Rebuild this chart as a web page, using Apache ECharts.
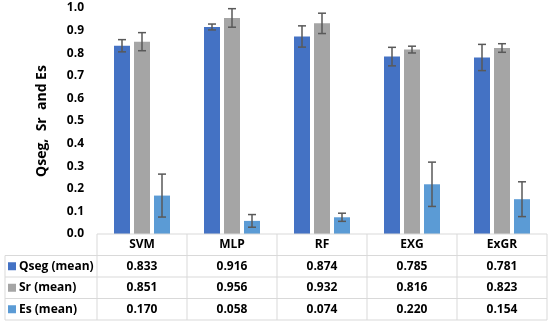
<!DOCTYPE html>
<html>
<head>
<meta charset="utf-8">
<script src="https://cdn.jsdelivr.net/npm/echarts@6/dist/echarts.min.js"></script>
<style>
html,body{margin:0;padding:0;background:#fff;}
#c{width:550px;height:325px;}
</style>
</head>
<body>
<div id="c"></div>
<script>
const categories = ['SVM', 'MLP', 'RF', 'EXG', 'ExGR'];
const seriesNames = ['Qseg (mean)', 'Sr (mean)', 'Es (mean)'];
const qseg = [0.833, 0.916, 0.874, 0.785, 0.781];
const sr = [0.851, 0.956, 0.932, 0.816, 0.823];
const es = [0.170, 0.058, 0.074, 0.220, 0.154];
const qsegErr = [0.027, 0.013, 0.047, 0.041, 0.058];
const srErr = [0.040, 0.041, 0.045, 0.015, 0.019];
const esErr = [0.095, 0.028, 0.018, 0.098, 0.077];
const yTicks = [0, 0.1, 0.2, 0.3, 0.4, 0.5, 0.6, 0.7, 0.8, 0.9, 1.0];

const colors = ['#4472C4', '#A5A5A5', '#5B9BD5'];
const values = [qseg, sr, es];
const errors = [qsegErr, srErr, esErr];
const FONT = '"Open Sans", sans-serif';
const BAR_W = 16, BAR_STEP = 20;

const chart = echarts.init(document.getElementById('c'), null, {renderer: 'canvas'});

function errSeries(k) {
  return {
    type: 'custom',
    name: seriesNames[k] + ' err',
    z: 10,
    data: values[k].map((v, i) => [i, v, errors[k][i]]),
    renderItem: function (params, api) {
      const i = api.value(0), v = api.value(1), e = api.value(2);
      const x = api.coord([i, 0])[0] + (k - 1) * BAR_STEP;
      const yt = api.coord([i, v + e])[1];
      const yb = api.coord([i, v - e])[1];
      const st = {stroke: '#595959', lineWidth: 1.5};
      return {
        type: 'group',
        children: [
          {type: 'line', shape: {x1: x, y1: yt, x2: x, y2: yb}, style: st},
          {type: 'line', shape: {x1: x - 4, y1: yt, x2: x + 4, y2: yt}, style: st},
          {type: 'line', shape: {x1: x - 4, y1: yb, x2: x + 4, y2: yb}, style: st}
        ]
      };
    }
  };
}

const option = {
  animation: false,
  backgroundColor: '#fff',
  grid: {left: 97, right: 3, top: 8, bottom: 91, containLabel: false},
  xAxis: {
    type: 'category',
    data: categories,
    axisLine: {show: false},
    axisTick: {show: false},
    axisLabel: {show: false},
    splitLine: {show: false}
  },
  yAxis: {
    type: 'value',
    min: yTicks[0],
    max: yTicks[yTicks.length - 1],
    interval: 0.1,
    name: 'Qseg,  Sr  and Es',
    nameLocation: 'middle',
    nameGap: 48,
    nameTextStyle: {fontFamily: FONT, fontWeight: 'bold', fontSize: 14, color: '#000'},
    axisLine: {show: false},
    axisTick: {show: false},
    splitLine: {show: false},
    axisLabel: {
      margin: 13,
      fontFamily: FONT, fontWeight: 'bold', fontSize: 12, color: '#000',
      formatter: v => v.toFixed(1)
    }
  },
  series: [
    ...values.map((vals, k) => ({
      type: 'bar',
      name: seriesNames[k],
      data: vals,
      barWidth: BAR_W,
      barGap: '25%',
      itemStyle: {color: colors[k]}
    })),
    errSeries(0), errSeries(1), errSeries(2)
  ]
};
chart.setOption(option);

// data table below the plot
function buildTable() {
  const base = chart.convertToPixel({yAxisIndex: 0}, 0);
  const c0 = chart.convertToPixel({xAxisIndex: 0}, 0);
  const c1 = chart.convertToPixel({xAxisIndex: 0}, 1);
  const band = c1 - c0;
  const left = c0 - band / 2;
  const right = left + band * categories.length;
  const rowH = 21.5;
  const tableLeft = 5;
  const lc = '#d9d9d9';
  const g = [];
  const line = (x1, y1, x2, y2) => g.push({type: 'line', shape: {x1, y1, x2, y2}, style: {stroke: lc, lineWidth: 1}, z: 5});
  const nRows = seriesNames.length;
  const bottom = base + rowH * (nRows + 1);
  line(left, base, right, base);
  for (let r = 1; r <= nRows + 1; r++) line(tableLeft, base + rowH * r, right, base + rowH * r);
  line(tableLeft, base + rowH, tableLeft, bottom);
  for (let j = 0; j <= categories.length; j++) {
    const x = left + band * j;
    line(x, base, x, bottom);
  }
  const ts = {fontFamily: FONT, fontWeight: 'bold', fontSize: 12, fill: '#000', align: 'center', verticalAlign: 'middle'};
  categories.forEach((cat, j) => {
    const cx = chart.convertToPixel({xAxisIndex: 0}, j);
    g.push({type: 'text', x: cx, y: base + rowH / 2, style: Object.assign({text: cat}, ts), z: 6});
    values.forEach((vals, k) => {
      g.push({type: 'text', x: cx, y: base + rowH * (k + 1.5), style: Object.assign({text: vals[j].toFixed(3)}, ts), z: 6});
    });
  });
  seriesNames.forEach((nm, k) => {
    const cy = base + rowH * (k + 1.5);
    g.push({type: 'rect', shape: {x: 8, y: cy - 4, width: 8, height: 8}, style: {fill: colors[k]}, z: 6});
    g.push({type: 'text', x: 19, y: cy, style: Object.assign({}, ts, {text: nm, align: 'left'}), z: 6});
  });
  chart.setOption({graphic: g});
}
buildTable();
</script>
</body>
</html>
